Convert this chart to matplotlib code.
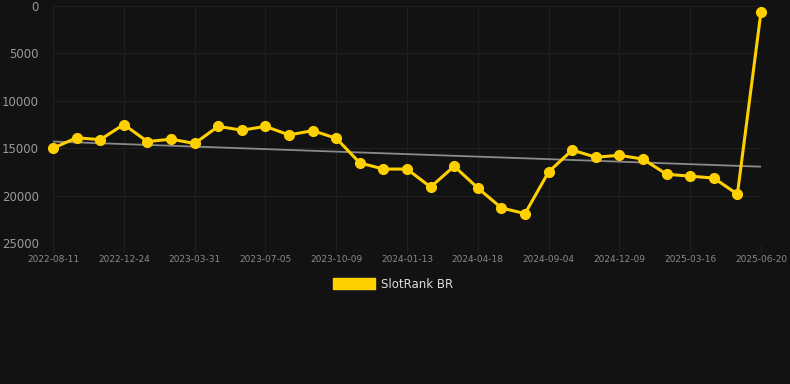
import numpy as np
import matplotlib.pyplot as plt
from matplotlib.patches import Patch

# ranking data (lower is better, axis inverted) -----------------------------
dates = ['2022-08-11', '2022-12-24', '2023-03-31', '2023-07-05', '2023-10-09',
         '2024-01-13', '2024-04-18', '2024-09-04', '2024-12-09', '2025-03-16',
         '2025-06-20']
rank = [15000, 13900, 14100, 12500, 14300, 14050, 14500, 12700, 13100, 12700,
        13600, 13150, 13950, 16550, 17200, 17200, 19100, 16900, 19200, 21300,
        21900, 17500, 15200, 15950, 15750, 16150, 17750, 17950, 18150, 19850,
        600]
trend_ends = [14300, 16950]
label = 'SlotRank BR'

bg = '#121212'
yellow = '#FFD000'
grid_c = '#1f1f1f'

x = np.arange(len(rank))

fig = plt.figure(figsize=(7.9, 3.84), dpi=100, facecolor=bg)
ax = fig.add_axes([53/790, 1-243/384, (761-53)/790, (243-6)/384])
ax.set_facecolor(bg)

ax.plot([x[0], x[-1]], trend_ends, color='#8a8a8a', lw=1.3, zorder=2)
ax.plot(x, rank, color=yellow, lw=2.2, marker='o', ms=7, zorder=3,
        clip_on=False)

ax.set_xlim(0, len(rank)-1)
ax.set_ylim(25000, 0)
ax.set_yticks([0, 5000, 10000, 15000, 20000, 25000])
ax.set_xticks(x[::3])
ax.set_xticklabels(dates)

ax.grid(True, color=grid_c, lw=0.8)
for s in ax.spines.values():
    s.set_visible(False)
ax.tick_params(axis='y', colors=grid_c, labelcolor='#9a9a9a', labelsize=8.5,
               length=0, pad=10)
ax.tick_params(axis='x', colors=grid_c, labelcolor='#8a8a8a', labelsize=6.5,
               length=7, pad=2)

leg = fig.legend(handles=[Patch(facecolor=yellow, edgecolor=yellow, label=label)],
                 loc='center', bbox_to_anchor=(393/790, 1-284/384), frameon=False,
                 handlelength=3.6, handleheight=1.0, handletextpad=0.5,
                 fontsize=8.5)
for t in leg.get_texts():
    t.set_color('#dddddd')

fig.savefig('out.png', dpi=100, facecolor=bg)
